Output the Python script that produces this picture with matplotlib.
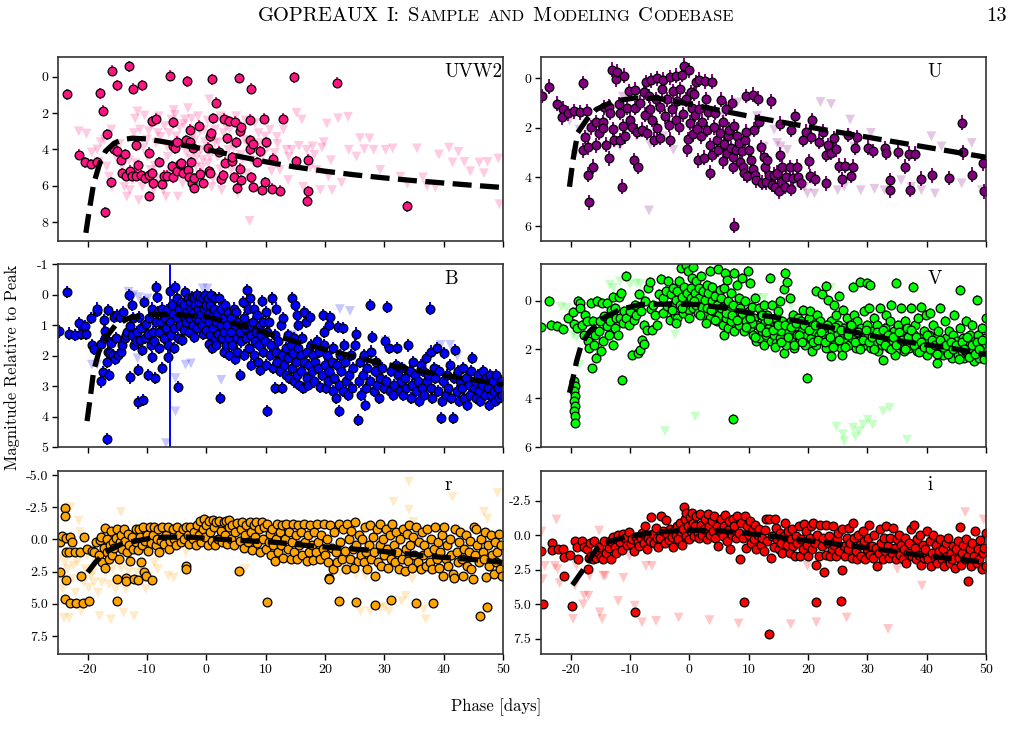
import numpy as np
import matplotlib
matplotlib.use("Agg")
import matplotlib.pyplot as plt

# ---------------- DATA (phase [days], magnitude relative to peak) ----------------
UVW2_det = [(-23.5,0.96),(-21.4,4.3),(-20.4,4.7),(-19.4,4.8),(-18.4,4.7),(-17.9,0.9),(-17.5,1.87),(-16.8,3.17),(-17.0,7.46),(-16.1,5.8),(-15.9,-0.35),(-15.5,4.0),(-15.0,0.46),(-15.0,4.1),(-14.4,4.57),(-14.2,5.3),(-13.7,4.27),(-13.5,5.46),(-13.1,-0.6),(-12.8,5.17),(-12.6,5.46),(-12.4,0.65),(-11.8,3.76),(-11.8,5.46),(-11.6,4.87),(-11.0,5.43),(-10.8,0.46),(-10.4,5.6),(-9.7,5.43),(-9.6,4.17),(-9.6,6.57),(-9.2,2.43),(-9.1,5.3),(-9.0,5.87),(-8.5,2.3),(-7.9,4.69),(-7.4,5.9),(-7.2,5.46),(-6.7,5.46),(-6.2,-0.06),(-5.8,4.94),(-5.7,5.54),(-5.6,2.5),(-5.7,3.8),(-5.2,3.94),(-5.0,3.57),(-4.9,5.17),(-4.5,4.83),(-4.2,4.76),(-3.9,5.3),(-3.4,3.5),(-3.2,0.24),(-3.1,5.13),(-3.0,5.5),(-2.8,3.6),(-2.7,2.9),(-2.6,4.69),(-2.4,5.87),(-2.3,3.9),(-2.1,6.1),(-2.0,5.6),(-1.3,2.69),(-1.0,5.35),(-0.5,5.83),(0.3,3.9),(0.4,5.2),(0.6,3.28),(0.7,5.3),(0.8,3.1),(1.0,0.13),(1.2,2.28),(1.6,1.43),(2.2,4.13),(2.5,5.65),(2.8,5.43),(2.9,2.3),(3.2,4.72),(3.4,3.39),(3.9,2.43),(4.3,4.65),(4.4,4.43),(4.7,5.54),(4.8,2.46),(5.0,3.6),(5.2,6.13),(5.5,0.06),(5.6,3.0),(5.7,5.06),(5.8,2.76),(5.9,5.69),(7.3,2.35),(7.3,3.98),(7.4,3.5),(7.5,5.54),(7.5,0.65),(7.8,6.06),(7.8,3.69),(8.5,4.69),(9.0,4.1),(9.3,6.24),(9.8,2.3),(10.0,3.6),(9.9,5.8),(11.0,6.17),(11.2,4.5),(12.4,6.28),(12.9,2.3),(14.8,0.02),(15.1,4.65),(16.9,6.83),(17.1,4.57),(17.2,6.31),(22.0,0.31),(33.9,7.13)]
UVW2_lim = [(-21.5,3.0),(-20.2,3.13),(-19.3,4.17),(-18.4,4.0),(-18.1,4.67),(-17.2,3.46),(-16.8,4.94),(-16.4,5.5),(-15.9,6.06),(-15.0,4.57),(-14.2,4.94),(-13.8,6.06),(-13.4,6.6),(-12.9,6.24),(-12.5,5.69),(-11.9,4.76),(-11.6,1.9),(-11.4,6.8),(-10.8,6.06),(-10.4,2.13),(-10.0,3.46),(-9.7,2.98),(-9.4,5.13),(-8.9,6.24),(-8.5,3.65),(-8.2,3.09),(-8.0,2.17),(-7.6,4.76),(-7.2,6.24),(-6.8,6.6),(-6.6,3.83),(-6.3,3.09),(-5.9,2.35),(-5.5,1.83),(-5.1,3.28),(-4.8,6.6),(-4.5,2.8),(-4.0,5.87),(-3.6,2.35),(-3.1,1.72),(-2.6,4.5),(-2.3,3.28),(-1.7,4.94),(-1.4,2.17),(-0.9,4.02),(-0.6,4.57),(-0.3,2.9),(0.3,4.76),(0.5,1.24),(0.9,6.06),(1.4,3.65),(1.9,4.39),(2.4,2.17),(2.6,6.24),(3.3,2.72),(3.7,4.02),(4.2,5.13),(5.0,2.17),(5.3,6.43),(6.1,4.57),(6.4,3.46),(6.8,5.32),(7.3,7.94),(8.2,2.54),(8.4,4.76),(9.0,3.65),(9.9,3.28),(10.7,2.9),(11.5,4.2),(11.9,3.31),(12.4,5.13),(13.5,4.02),(13.8,5.69),(14.4,4.02),(15.2,1.98),(16.1,2.35),(16.3,6.06),(16.9,4.02),(17.9,3.83),(18.6,5.13),(19.2,6.24),(19.8,3.6),(20.3,2.57),(20.6,5.5),(21.2,6.24),(22.2,2.28),(22.8,5.83),(23.9,2.2),(24.0,4.02),(25.3,4.39),(25.9,3.37),(26.6,3.98),(27.5,3.39),(28.2,4.02),(29.3,5.13),(30.2,4.02),(31.4,3.94),(32.7,5.5),(33.9,5.9),(35.5,3.94),(36.5,5.54),(37.2,6.02),(38.6,6.09),(39.2,4.28),(40.9,3.9),(41.5,4.72),(42.5,4.13),(43.5,4.69),(44.5,5.2),(46.0,4.72),(46.8,5.31),(47.4,4.69),(49.2,4.5),(49.4,7.02),
            (-12.0,2.3),(-11.2,2.9),(-10.6,3.9),(-9.9,4.4),(-9.3,2.6),(-8.7,4.9),(-8.1,5.6),(-7.7,3.3),(-7.0,2.7),(-6.5,4.4),(-6.0,5.2),(-5.3,2.1),(-4.7,3.7),(-4.3,4.9),(-3.8,2.6),(-3.3,4.2),(-2.9,5.2),(-2.5,2.3),(-2.0,3.5),(-1.6,4.4),(-1.1,3.0),(-0.8,5.0),(-0.2,3.6),(0.2,2.4),(0.6,4.4),(1.1,5.6),(1.5,2.9),(2.0,3.6),(2.3,5.1),(2.9,3.1),(3.5,4.8),(4.0,2.9),(4.6,3.9),(5.2,2.7),(5.8,4.3),(6.6,2.4),(7.0,3.7),(7.6,4.6),(8.8,3.1),(9.5,4.3),(10.3,3.9),(11.0,5.2),(12.0,3.7),(13.0,2.9),(13.9,4.4),(15.6,3.8),(17.5,5.0),(18.2,4.3),(19.5,3.9),(21.0,4.6),(-14.6,3.7),(-13.0,4.6),(-12.2,3.1),(-16.0,2.9),(-17.8,3.6)]
UVW2_model_phase = [-20.3,-19.8,-19.0,-18.0,-17.0,-15.5,-14.0,-12.5,-10.0,-5.0,0.0,5.0,10.0,15.0,20.0,25.0,30.0,35.0,40.0,45.0,50.0]
UVW2_model_mag = [8.6,7.5,5.9,4.8,4.1,3.65,3.45,3.38,3.42,3.7,4.0,4.35,4.68,4.97,5.2,5.4,5.57,5.72,5.85,5.98,6.1]

U_det = [(-24.9,0.71),(-23.6,0.33),(-22.3,1.02),(-21.3,1.23),(-21.4,1.58),(-20.4,1.42),(-19.5,1.34),(-18.4,1.37),(-17.9,0.19),(-17.3,1.34),(-17.6,2.38),(-17.9,2.92),(-17.0,2.79),(-17.0,3.91),(-16.9,5.03),(-16.6,1.99),(-16.2,3.58),(-15.8,1.78),(-15.7,2.71),(-15.3,2.21),(-14.6,1.78),(-14.5,2.02),(-14.3,1.17),(-14.0,2.69),(-13.6,3.25),(-13.5,1.15),(-13.4,1.39),(-13.1,-0.36),(-12.8,2.05),(-12.7,2.49),(-12.4,0.03),(-12.2,-0.28),(-11.9,1.04),(-11.7,1.39),(-11.7,2.51),(-11.4,4.4),(-11.2,1.94),(-11.0,-0.11),(-10.8,2.35),(-10.5,1.2),(-10.2,0.52),(-10.0,1.67),(-9.7,1.97),(-9.4,3.33),(-9.2,0.46),(-9.1,1.2),(-8.9,2.16),(-8.7,3.58),(-8.3,0.98),(-7.97,2.08),(-7.7,0.57),(-7.5,1.48),(-7.3,0.16),(-7.2,2.21),(-6.8,0.71),(-6.6,1.26),(-6.4,0.08),(-6.3,1.67),(-5.9,2.49),(-5.7,0.85),(-5.5,0.0),(-5.4,2.02),(-5.0,1.15),(-4.9,2.4),(-4.6,0.44),(-4.4,0.05),(-4.1,1.53),(-3.8,0.85),(-3.5,1.89),(-3.3,2.49),(-3.2,-0.05),(-2.9,1.26),(-2.7,0.52),(-2.3,-0.11),(-2.2,1.67),(-2.0,0.93),(-1.8,1.99),(-1.5,0.44),(-1.3,-0.14),(-1.1,1.45),(-0.9,-0.52),(-0.6,0.85),(-0.4,2.87),(-0.3,2.46),(-0.1,-0.33),(0.05,1.8),(0.3,0.57),(0.5,1.2),(0.6,2.27),(0.8,0.63),(0.9,1.48),(1.1,0.16),(1.3,2.05),(1.5,3.33),(1.6,0.05),(1.7,1.23),(2.0,2.35),(2.2,1.75),(2.4,3.22),(2.6,0.11),(2.8,0.85),(3.0,2.08),(3.2,1.37),(3.4,2.71),(3.5,3.83),(3.8,0.14),(3.9,3.09),(4.2,1.99),(4.4,1.39),(4.7,2.51),(4.9,2.9),(5.1,2.21),(5.4,0.87),(5.6,3.36),(5.7,1.78),(5.9,2.65),(6.1,1.23),(6.4,3.03),(6.5,2.35),(6.7,2.08),(7.0,2.84),(7.2,0.98),(7.3,3.2),(7.4,3.58),(7.5,5.98),(7.6,1.94),(7.8,2.9),(8.1,2.35),(8.3,2.62),(8.6,3.39),(8.9,2.95),(9.0,3.58),(9.2,3.85),(9.4,2.49),(9.5,0.71),(9.6,2.16),(9.8,3.96),(10.1,2.9),(10.4,3.31),(10.7,0.66),(10.8,3.66),(10.9,2.08),(11.0,3.93),(11.2,4.13),(11.6,0.82),(11.8,1.75),(12.0,2.79),(12.2,4.24),(12.5,3.17),(12.7,3.58),(12.9,4.21),(13.1,3.31),(13.4,3.91),(13.7,0.93),(13.9,4.32),(14.3,3.91),(14.4,4.4),(14.7,3.83),(15.1,4.59),(15.2,3.09),(15.3,1.83),(15.4,4.21),(15.7,3.61),(16.1,4.4),(16.3,3.99),(16.9,3.61),(17.1,2.08),(17.2,4.48),(17.4,4.05),(17.8,1.53),(18.1,3.58),(18.3,3.99),(18.8,4.24),(19.1,2.49),(19.7,2.16),(20.1,3.36),(20.3,3.96),(20.5,2.38),(20.7,1.69),(21.1,4.07),(21.8,2.57),(22.5,2.16),(23.0,4.26),(23.1,3.11),(23.4,2.71),(23.9,3.03),(24.4,2.43),(24.8,2.87),(25.3,3.55),(25.8,4.1),(26.2,3.55),(26.8,2.3),(27.3,3.96),(27.6,3.58),(28.0,2.81),(28.2,2.38),(30.1,2.81),(30.9,2.95),(33.0,2.84),(33.2,3.03),(33.8,4.13),(33.8,4.54),(35.1,2.98),(36.4,3.58),(37.0,3.06),(37.2,4.51),(38.1,3.06),(39.1,4.07),(40.9,3.93),(43.7,4.04),(45.9,1.8),(46.2,3.0),(47.6,3.91),(49.5,3.44),(49.7,4.59)]
U_lim = [(-20.2,1.72),(-19.3,3.09),(-18.5,2.08),(-16.8,2.21),(-11.7,2.76),(-11.2,0.74),(-8.9,2.35),(-6.8,5.36),(-6.6,2.68),(-4.4,2.35),(-2.7,2.9),(0.2,2.08),(2.4,2.21),(5.8,1.53),(8.1,0.98),(10.3,2.21),(11.4,1.53),(12.6,2.76),(14.3,2.08),(14.8,2.62),(15.4,2.76),(16.5,2.9),(17.1,4.54),(18.2,4.26),(19.4,4.4),(19.9,4.67),(21.1,4.67),(22.1,0.96),(23.9,1.04),(25.0,4.54),(26.1,4.4),(27.1,1.67),(27.8,2.76),(28.9,4.54),(30.6,2.21),(31.2,4.48),(32.9,4.54),(35.7,4.13),(37.4,4.4),(39.1,4.54),(40.8,2.35),(41.4,4.67),(42.5,2.76),(45.9,4.26),(47.6,2.62),(49.3,4.54)]
U_model_phase = [-20.2,-19.6,-18.8,-17.3,-15.7,-12.8,-9.4,-5.5,0.2,5.8,11.5,22.7,34.0,50.0]
U_model_mag = [4.4,3.3,2.2,1.67,1.26,0.93,0.8,0.8,1.05,1.33,1.6,2.08,2.55,3.2]

B_det = [(-24.9,1.21),(-23.5,-0.09),(-23.2,1.28),(-22.2,1.33),(-21.5,0.95),(-21.2,1.28),(-20.4,1.02),(-20.2,1.28),(-19.5,0.76),(-19.2,1.67),(-19.0,1.78),(-18.5,0.54),(-18.4,0.46),(-17.8,1.63),(-17.7,2.85),(-17.5,2.54),(-17.3,0.85),(-17.1,1.2),(-17.0,1.41),(-16.8,4.73),(-16.7,2.22),(-16.6,1.87),(-16.4,2.63),(-16.6,0.5),(-16.2,1.93),(-16.0,1.59),(-15.8,1.98),(-15.6,0.74),(-15.4,2.11),(-15.2,1.43),(-15.0,0.67),(-14.9,1.98),(-14.5,0.74),(-14.4,1.87),(-14.2,1.65),(-14.0,0.57),(-13.7,1.43),(-13.5,1.33),(-13.3,1.22),(-13.1,0.02),(-12.9,1.02),(-12.8,2.72),(-12.6,0.35),(-12.5,1.33),(-12.3,0.78),(-12.2,1.65),(-11.9,1.54),(-11.7,1.22),(-11.6,2.47),(-11.5,3.54),(-11.4,0.74),(-11.1,1.48),(-11.0,1.11),(-10.8,1.83),(-10.6,3.46),(-10.5,0.24),(-10.3,1.43),(-10.1,0.96),(-9.9,1.28),(-9.8,2.65),(-9.6,0.78),(-9.4,1.65),(-9.2,2.04),(-9.1,0.46),(-9.0,1.24),(-8.8,1.54),(-8.6,2.74),(-8.5,0.89),(-8.4,-0.24),(-8.3,0.09),(-8.1,0.57),(-8.0,1.22),(-7.9,1.76),(-7.6,0.89),(-7.5,2.41),(-7.4,0.46),(-7.2,1.43),(-7.0,0.78),(-6.8,1.11),(-6.6,0.5),(-6.5,1.65),(-6.4,2.04),(-6.2,-0.13),(-6.1,0.89),(-5.9,1.33),(-5.8,0.35),(-5.6,0.63),(-5.5,1.11),(-5.4,1.76),(-5.2,-0.24),(-5.0,0.13),(-4.9,0.78),(-4.8,3.04),(-4.7,1.43),(-4.6,0.46),(-4.4,1.0),(-4.2,0.24),(-4.1,1.5),(-3.9,0.67),(-3.8,1.17),(-3.7,0.35),(-3.6,-0.07),(-3.5,0.89),(-3.2,0.57),(-3.1,0.13),(-2.9,1.22),(-2.8,0.78),(-2.7,0.24),(-2.6,0.46),(-2.4,0.07),(-2.3,1.0),(-2.2,0.57),(-2.1,0.13),(-2.0,1.39),(-1.9,0.35),(-1.8,0.78),(-1.6,0.02),(-1.5,1.11),(-1.4,0.46),(-1.3,0.24),(-1.2,0.85),(-1.0,0.07),(-0.9,0.63),(-0.7,1.0),(-0.6,0.13),(-0.5,1.28),(-0.4,0.46),(-0.3,0.02),(-0.2,0.78),(-0.1,0.35),(0.0,1.17),(0.2,0.63),(0.3,0.13),(0.4,1.61),(0.5,0.89),(0.6,0.35),(0.7,1.33),(0.8,0.02),(0.9,1.76),(1.1,0.67),(1.2,1.11),(1.3,0.46),(1.4,1.43),(1.5,0.13),(1.6,0.89),(1.7,1.65),(1.8,0.63),(1.9,1.28),(2.2,0.13),(2.3,3.39),(2.4,1.0),(2.5,0.46),(2.6,1.43),(2.8,0.78),(2.9,1.87),(3.0,1.22),(3.2,0.35),(3.3,1.65),(3.4,1.0),(3.7,0.57),(3.8,1.43),(3.9,1.98),(4.1,0.78),(4.2,1.22),(4.4,1.65),(4.6,0.46),(4.8,2.11),(4.9,1.0),(5.0,0.57),(5.1,1.43),(5.2,1.87),(5.4,0.89),(5.6,1.22),(5.7,2.63),(5.9,1.54),(6.1,0.24),(6.3,0.78),(6.4,1.98),(6.5,1.11),(6.7,1.43),(6.9,-0.15),(7.0,0.46),(7.2,1.76),(7.3,1.0),(7.4,0.13),(7.5,1.33),(7.6,2.3),(7.8,0.89),(8.0,1.98),(8.1,0.46),(8.2,1.54),(8.4,1.22),(8.5,0.67),(8.7,2.2),(8.9,1.65),(9.0,1.0),(9.1,2.48),(9.2,1.33),(9.4,0.2),(9.5,1.87),(9.6,0.89),(9.9,1.54),(10.0,0.57),(10.1,2.3),(10.2,3.83),(10.3,1.22),(10.5,0.89),(10.7,1.98),(10.9,1.65),(11.1,0.13),(11.2,2.41),(11.5,1.33),(11.6,3.07),(11.7,1.87),(11.8,0.46),(11.9,2.2),(12.1,1.54),(12.4,2.52),(12.6,1.0),(12.7,3.07),(12.8,1.98),(12.9,0.78),(13.1,2.3),(13.4,1.76),(13.5,2.63),(13.7,1.33),(13.8,2.09),(14.0,2.74),(14.2,1.65),(14.4,2.41),(14.5,0.13),(14.6,1.93),(14.7,2.85),(14.8,1.43),(15.0,0.35),(15.1,2.2),(15.2,0.67),(15.3,2.63),(15.4,1.0),(15.5,1.76),(15.6,2.96),(15.9,1.98),(16.0,2.52),(16.2,1.43),(16.3,3.07),(16.4,0.57),(16.5,2.2),(16.8,0.89),(16.9,1.87),(17.0,2.74),(17.1,2.96),(17.3,2.3),(17.4,0.74),(17.7,1.65),(17.8,2.52),(17.9,1.98),(18.1,2.85),(18.3,2.2),(18.6,1.54),(18.8,2.41),(19.0,1.87),(19.2,3.02),(19.5,2.63),(19.7,0.67),(19.8,1.22),(19.9,1.65),(20.0,2.3),(20.1,3.07),(20.4,1.98),(20.5,2.85),(20.6,1.0),(20.7,2.52),(20.9,0.74),(21.1,2.2),(21.3,3.17),(21.4,1.76),(21.6,2.74),(21.8,3.39),(22.0,2.3),(22.2,1.07),(22.3,3.83),(22.4,2.96),(22.5,1.98),(22.7,2.52),(23.0,3.17),(23.1,1.11),(23.2,1.65),(23.4,2.2),(23.6,2.85),(23.9,3.28),(24.1,2.63),(24.3,1.98),(24.6,3.07),(24.8,2.41),(25.1,1.65),(25.3,1.28),(25.5,4.11),(25.7,2.85),(25.9,2.2),(26.1,3.28),(26.4,2.63),(26.6,1.98),(26.8,3.61),(26.9,3.07),(27.1,2.41),(27.5,0.35),(27.6,2.85),(27.8,1.87),(27.9,1.39),(28.2,3.17),(28.4,2.52),(28.6,2.2),(28.8,2.96),(29.1,3.39),(29.3,2.74),(29.6,2.41),(29.9,3.07),(30.1,1.54),(30.3,2.85),(30.5,0.41),(30.8,1.76),(31.0,3.17),(31.2,2.52),(31.4,3.28),(31.7,2.96),(31.9,2.3),(32.1,1.76),(32.3,2.63),(32.6,3.17),(32.8,2.85),(33.0,2.41),(33.2,3.28),(33.5,2.74),(33.7,3.07),(34.0,1.67),(34.3,2.52),(34.5,3.39),(34.7,2.96),(34.9,2.2),(35.2,2.63),(35.4,3.17),(35.6,2.85),(35.8,3.5),(36.1,2.3),(36.3,3.07),(36.5,2.52),(36.7,3.28),(37.0,2.09),(37.2,2.85),(37.4,2.63),(37.7,0.46),(37.8,1.87),(37.9,3.07),(38.1,3.39),(38.3,2.41),(38.6,2.74),(38.8,1.76),(39.0,3.17),(39.2,2.52),(39.5,4.04),(39.7,3.5),(39.9,2.85),(40.1,1.93),(40.4,3.28),(40.6,2.63),(40.8,3.07),(41.0,2.3),(41.3,3.39),(41.5,4.04),(41.7,2.74),(41.9,1.83),(42.2,3.17),(42.4,2.52),(42.6,3.5),(42.8,2.85),(43.1,3.07),(43.3,2.41),(43.5,3.39),(43.7,2.74),(43.9,3.61),(44.2,2.96),(44.4,3.28),(44.6,2.52),(44.8,2.09),(45.1,3.07),(45.3,2.85),(45.5,3.39),(45.8,2.63),(46.0,3.17),(46.2,3.5),(46.5,2.96),(46.7,2.52),(46.9,3.28),(47.1,2.74),(47.4,3.07),(47.6,3.61),(47.8,2.63),(48.0,3.28),(48.3,2.85),(48.5,3.17),(48.7,3.5),(48.9,2.63),(49.2,3.07),(49.4,3.39),(49.6,2.85),(49.8,3.28)]
B_outlier = [(-6.1,5.6),(7.5,5.25)]
B_outlier_err = [6.8,0.2]
B_lim = [(-19.3,2.3),(-18.4,2.3),(-13.1,-0.09),(-12.3,0.02),(-11.6,2.09),(-11.4,0.09),(-10.5,0.24),(-9.9,0.13),(-6.8,4.87),(-5.2,2.74),(-5.2,3.83),(-3.5,2.3),(-2.6,2.26),(-0.6,-0.2),(0.2,-0.2),(2.5,2.8),(11.2,0.24),(14.5,1.33),(14.6,1.43),(22.5,0.48),(24.2,0.54),(24.8,1.87),(30.2,1.52),(39.5,1.65),(41.1,1.65),(42.3,2.02)]
B_model_phase = [-20.1,-19.5,-19.0,-18.1,-17.0,-15.3,-13.1,-10.2,-5.7,0.0,5.6,11.2,16.9,22.5,28.2,33.8,39.5,50.0]
B_model_mag = [4.15,3.28,2.52,1.87,1.43,1.0,0.78,0.67,0.65,0.73,1.0,1.33,1.65,1.92,2.2,2.43,2.63,2.95]

V_det = [(-24.95,1.09),(-23.6,0.0),(-23.3,0.98),(-22.3,1.04),(-21.3,1.17),(-20.4,0.71),(-19.6,0.46),(-19.5,0.95),(-19.0,1.12),(-19.4,3.3),(-19.3,3.5),(-19.4,3.71),(-19.3,3.92),(-19.4,4.12),(-19.3,4.33),(-19.4,4.53),(-19.3,4.73),(-19.35,5.01),(-18.7,0.03),(-18.5,0.11),(-18.4,0.3),(-18.1,1.01),(-17.7,1.39),(-17.6,0.57),(-17.3,0.85),(-17.1,1.66),(-16.9,1.94),(-16.6,0.08),(-16.4,2.78),(-16.3,0.85),(-16.1,1.8),(-15.9,1.39),(-15.7,2.35),(-15.5,0.03),(-15.3,1.26),(-15.1,0.85),(-14.9,2.07),(-14.7,0.08),(-14.5,1.66),(-14.3,0.65),(-13.96,0.08),(-13.8,1.06),(-13.6,1.39),(-13.4,0.85),(-13.2,0.38),(-12.9,-0.16),(-12.8,1.8),(-12.6,1.12),(-12.5,0.3),(-12.3,0.71),(-12.0,1.42),(-11.9,-0.16),(-11.7,0.71),(-11.6,-0.3),(-11.4,3.25),(-11.2,0.93),(-11.0,0.44),(-10.7,-1.01),(-10.6,0.71),(-10.2,0.98),(-10.0,0.44),(-9.7,2.24),(-9.4,0.79),(-9.2,0.16),(-9.0,0.57),(-8.65,2.16),(-8.5,-0.27),(-8.3,2.02),(-8.2,0.44),(-7.97,1.61),(-7.7,0.98),(-7.6,1.77),(-7.4,0.03),(-7.2,1.2),(-6.96,-0.52),(-6.6,-0.76),(-6.4,0.35),(-6.3,1.2),(-6.05,0.16),(-5.8,0.57),(-5.5,0.98),(-5.15,-0.27),(-4.7,-0.87),(-4.5,0.52),(-4.4,-0.11),(-4.0,-0.38),(-3.8,0.22),(-3.6,-0.79),(-3.3,0.79),(-3.1,-0.25),(-2.9,0.16),(-2.7,-0.52),(-2.4,0.57),(-2.3,-0.03),(-2.1,-0.38),(-2.0,0.71),(-1.8,-0.79),(-1.6,0.16),(-1.4,-1.34),(-1.3,-0.16),(-1.1,0.52),(-0.9,-0.57),(-0.6,0.16),(-0.5,-1.47),(-0.4,-0.3),(-0.3,-1.23),(-0.1,0.38),(0.2,-0.52),(0.3,-0.11),(0.4,-0.93),(0.6,0.3),(0.7,-1.39),(1.0,-0.3),(1.1,-0.79),(1.2,0.16),(1.4,0.52),(1.6,-0.52),(1.7,-0.11),(2.0,-1.01),(2.2,0.25),(2.3,-0.38),(2.4,0.57),(2.6,-0.03),(2.9,-0.65),(3.0,0.3),(3.2,-0.3),(3.4,0.71),(3.5,-1.2),(3.8,0.03),(3.9,-0.55),(4.1,0.44),(4.3,-0.19),(4.6,0.85),(4.7,0.16),(4.9,-1.28),(5.0,0.57),(5.1,-0.44),(5.4,-0.11),(5.6,0.98),(5.7,0.3),(5.8,1.39),(5.9,-0.52),(6.0,-1.12),(6.1,0.71),(6.4,-0.85),(6.5,0.03),(6.6,1.12),(6.8,0.44),(7.0,-0.3),(7.05,0.85),(7.3,0.19),(7.4,4.86),(7.5,-1.12),(7.6,1.26),(7.8,0.57),(8.1,-0.65),(8.3,-0.11),(8.4,0.98),(8.6,0.3),(8.9,-0.93),(9.0,0.71),(9.2,1.26),(9.4,0.03),(9.6,0.85),(9.9,-1.2),(10.0,0.44),(10.2,-0.71),(10.3,1.12),(10.5,0.25),(10.8,1.39),(10.9,0.71),(11.1,-0.11),(11.3,1.66),(11.45,0.98),(11.7,0.3),(11.8,1.53),(12.0,0.57),(12.2,1.26),(12.5,1.8),(12.6,0.16),(12.7,0.85),(12.9,1.39),(13.1,0.57),(13.4,1.12),(13.6,-0.93),(13.7,1.66),(13.9,0.16),(14.0,0.85),(14.3,1.39),(14.4,0.71),(14.6,1.72),(14.8,0.98),(15.0,0.44),(15.2,1.53),(15.3,0.03),(15.4,1.26),(15.6,0.85),(15.9,-0.46),(16.0,2.13),(16.1,-1.12),(16.3,1.8),(16.5,-0.76),(16.8,1.26),(16.9,-0.11),(17.1,0.85),(17.3,1.53),(17.5,0.57),(17.7,1.94),(17.9,1.06),(18.1,1.39),(18.3,0.71),(18.6,1.66),(18.8,0.85),(19.0,1.26),(19.2,0.38),(19.5,1.8),(19.7,0.98),(19.8,3.17),(19.9,1.39),(20.1,0.71),(20.3,0.44),(20.5,1.53),(20.6,2.07),(20.8,0.98),(21.05,1.26),(21.3,-0.38),(21.4,1.8),(21.6,0.57),(21.8,1.39),(22.1,0.85),(22.3,-0.25),(22.5,1.53),(22.7,1.12),(22.97,-0.6),(23.1,1.94),(23.3,-0.03),(23.5,1.53),(23.8,2.29),(23.9,0.85),(24.1,1.26),(24.3,0.16),(24.4,1.8),(24.7,0.57),(24.9,1.39),(25.1,0.98),(25.3,-0.19),(25.5,1.94),(25.7,1.53),(25.8,2.21),(25.9,0.38),(26.1,1.12),(26.4,1.66),(26.6,0.71),(26.7,1.39),(26.9,1.8),(27.1,0.98),(27.4,1.53),(27.6,-0.57),(27.7,0.57),(27.8,1.26),(28.05,1.94),(28.3,0.85),(28.5,1.66),(28.8,-0.76),(28.96,1.12),(29.2,1.47),(29.4,0.44),(29.6,1.8),(29.9,-0.71),(30.0,0.98),(30.1,1.39),(30.3,0.3),(30.5,-0.65),(30.6,1.94),(30.9,1.26),(31.1,0.71),(31.3,1.66),(31.6,0.98),(31.8,2.07),(32.0,1.39),(32.2,0.3),(32.5,1.8),(32.7,2.43),(32.9,1.12),(33.1,0.57),(33.4,1.53),(33.6,1.94),(33.8,0.85),(34.0,0.16),(34.3,1.66),(34.5,1.26),(34.7,2.21),(34.9,-0.74),(35.2,0.98),(35.4,1.8),(35.6,0.3),(35.8,1.39),(36.1,2.07),(36.3,0.85),(36.5,1.53),(36.7,1.12),(37.0,1.94),(37.2,1.8),(37.4,0.3),(37.65,-0.57),(37.9,1.39),(38.1,0.98),(38.3,2.07),(38.55,0.71),(38.8,1.53),(39.0,0.25),(39.2,1.94),(39.5,1.26),(39.7,1.66),(39.9,0.57),(40.1,2.21),(40.4,1.39),(40.6,0.52),(40.8,1.8),(41.0,0.98),(41.3,2.07),(41.5,1.53),(41.7,2.56),(41.9,1.26),(42.2,0.3),(42.4,1.94),(42.6,1.66),(42.8,2.21),(43.1,0.85),(43.3,1.53),(43.5,2.07),(43.75,1.26),(43.97,1.8),(44.2,2.35),(44.4,1.39),(44.65,0.57),(44.9,1.94),(45.1,1.66),(45.3,2.21),(45.55,-0.44),(45.7,1.12),(45.9,2.07),(46.1,1.53),(46.35,2.35),(46.6,0.85),(46.8,1.8),(47.0,2.21),(47.3,1.39),(47.5,1.94),(47.7,0.98),(47.9,2.48),(48.2,1.66),(48.4,-0.03),(48.5,2.07),(48.7,1.39),(48.9,2.35),(49.2,1.8),(49.4,1.12),(49.6,2.21),(49.8,1.53),(49.95,0.71),
         (10.6,0.9),(11.0,1.5),(11.9,1.1),(12.3,0.6),(13.0,1.3),(13.3,0.8),(14.1,1.2),(14.5,1.9),(15.0,1.0),(15.5,1.7),(16.2,1.0),(16.7,1.5),(17.2,1.1),(17.6,1.8),(18.0,0.9),(18.4,1.4),(19.0,1.7),(19.3,1.0),(20.2,1.2),(20.8,1.7),(21.2,1.0),(21.7,1.6),(22.2,1.3),(22.8,1.7),(23.2,1.0),(23.7,1.5),(24.2,1.9),(24.6,1.1),(25.2,1.6),(25.6,1.2),(26.3,1.9),(26.8,1.4),(27.3,1.0),(27.9,1.7),(28.4,1.3),(28.8,2.0),(29.3,1.6),(29.7,1.2),(30.2,1.7),(30.8,1.5),(31.2,2.0),(31.7,1.3),(32.1,1.6),(32.6,1.2),(33.0,1.8),(33.5,1.4),(34.0,2.0),(34.4,1.5),(34.9,1.8),(35.3,1.3),(35.9,1.6),(36.4,2.0),(36.8,1.5),(37.3,1.2),(37.8,1.8),(38.2,1.5),(38.7,2.1),(39.1,1.7),(39.6,1.9),(40.0,1.4),(40.5,2.0),(40.9,1.6),(41.4,1.8),(41.8,2.2),(42.3,1.6),(42.7,1.9),(43.2,1.8),(43.6,2.2),(44.1,1.7),(44.5,2.0),(45.0,1.8),(45.4,2.4),(45.9,1.7),(46.3,2.0),(46.8,1.5),(47.2,2.3),(47.6,1.8),(48.1,2.2),(48.5,1.7),(48.9,2.0),(49.3,1.6),(49.7,2.4),(-3.0,0.4),(-2.2,0.9),(-1.2,0.3),(0.0,0.7),(0.8,0.0),(1.8,0.6),(2.8,0.9),(3.6,0.4),(4.4,0.8),(5.3,0.3),(6.2,0.5),(7.2,0.6),(8.0,0.8),(8.8,0.5),(9.6,1.1),(10.2,0.7)]
V_lim = [(-21.6,0.25),(-20.7,0.3),(-19.6,1.39),(-19.0,1.53),(-18.5,2.62),(-13.4,-0.65),(-12.8,-0.52),(-11.7,-0.79),(-10.0,-0.65),(-8.9,-0.71),(-8.3,-0.68),(-6.8,-0.52),(-4.1,5.35),(-2.4,1.39),(1.0,4.75),(2.9,0.85),(8.1,-0.38),(11.45,-0.11),(12.6,-0.11),(14.8,1.26),(17.1,0.16),(23.9,-0.52),(24.8,5.16),(25.9,5.48),(26.1,5.76),(27.6,5.21),(28.0,5.57),(28.6,5.35),(29.3,5.08),(30.1,4.88),(30.9,5.08),(32.7,4.53),(33.8,4.39),(36.7,5.7)]
V_model_phase = [-20.2,-19.6,-19.0,-18.2,-16.8,-14.5,-11.7,-8.3,-2.7,1.3,5.8,11.45,17.1,22.7,28.4,34.0,39.7,45.3,50.0]
V_model_mag = [3.78,3.17,2.48,1.8,1.26,0.71,0.37,0.16,0.14,0.16,0.3,0.57,0.78,1.05,1.32,1.6,1.8,2.0,2.21]

r_det = [(-24.9,0.1),(-24.7,2.56),(-24.6,0.21),(-24.35,-0.26),(-23.8,-2.45),(-23.8,-1.83),(-23.8,4.65),(-23.7,3.19),(-23.6,-0.1),(-23.6,0.99),(-23.1,0.99),(-22.9,-0.16),(-22.9,4.91),(-22.65,0.21),(-22.2,0.99),(-21.9,4.91),(-21.3,0.99),(-21.1,2.87),(-20.85,4.91),(-20.6,-0.21),(-20.1,0.78),(-19.7,4.8),(-19.3,0.89),(-19.0,0.99),(-18.6,0.21),(-18.1,1.25),(-17.9,0.05),(-17.7,-0.21),(-17.6,1.78),(-17.2,0.63),(-17.0,-0.89),(-17.0,2.25),(-16.8,0.99),(-16.7,-0.05),(-16.4,1.51),(-16.2,0.47),(-16.0,-0.68),(-15.9,1.25),(-15.8,0.21),(-15.5,0.63),(-15.3,-0.1),(-15.1,-0.84),(-15.0,3.08),(-15.0,4.8),(-14.75,1.51),(-14.6,0.21),(-14.4,-0.31),(-14.2,0.73),(-13.96,-0.84),(-13.7,0.1),(-13.5,3.03),(-13.5,3.24),(-13.4,0.99),(-13.2,-0.42),(-13.05,0.47),(-12.8,1.67),(-12.6,-0.16),(-12.4,0.73),(-12.2,3.08),(-11.9,-0.84),(-11.8,0.21),(-11.6,0.84),(-11.5,3.13),(-11.4,-0.84),(-11.1,-0.16),(-11.0,1.78),(-10.8,0.47),(-10.6,-0.94),(-10.5,2.56),(-10.3,0.1),(-10.2,2.82),(-10.0,-0.31),(-9.8,0.89),(-9.55,-0.94),(-9.3,0.31),(-9.2,3.19),(-8.99,-0.31),(-8.76,-0.94),(-8.5,0.47),(-8.3,-0.05),(-8.1,-0.84),(-7.9,0.99),(-7.6,0.1),(-7.4,-0.94),(-7.2,0.37),(-6.8,-0.31),(-6.5,-0.94),(-6.3,0.73),(-6.05,0.1),(-5.7,-0.84),(-5.5,-0.05),(-5.15,0.47),(-4.9,-0.94),(-4.6,-0.31),(-4.35,0.21),(-4.0,-0.84),(-3.7,0.0),(-3.45,-0.94),(-3.45,2.09),(-3.45,2.3),(-3.1,-0.31),(-2.9,0.37),(-2.7,-0.94),(-2.3,-0.05),(-2.0,-0.57),(-1.8,0.47),(-1.5,-1.1),(-1.3,-0.31),(-1.1,-1.46),(-0.85,0.21),(-0.6,-0.84),(-0.4,-1.57),(-0.2,-0.16),(0.0,-1.1),(0.3,0.47),(0.5,-1.46),(0.7,-0.57),(0.95,0.1),(1.06,-1.51),(1.3,-0.94),(1.5,0.47),(1.7,-1.36),(1.96,-0.05),(2.2,-1.46),(2.4,-0.68),(2.6,0.21),(2.9,-1.36),(3.1,-0.31),(3.3,-1.46),(3.55,0.37),(3.8,-0.94),(3.9,-1.51),(4.1,-0.05),(4.3,-1.1),(4.6,0.47),(4.8,-0.57),(5.1,-1.25),(5.5,2.45),(5.6,0.1),(5.8,-0.84),(6.0,-1.36),(6.3,0.63),(6.5,-0.31),(6.7,-1.1),(7.05,0.21),(7.3,-1.36),(7.5,-0.57),(7.7,0.84),(7.95,-1.1),(8.2,-0.16),(8.4,-1.36),(8.6,0.31),(8.85,-0.84),(9.1,0.99),(9.3,-1.36),(9.5,-0.05),(9.76,-0.94),(9.98,0.73),(10.2,4.86),(10.3,-1.2),(10.5,0.21),(10.66,-0.42),(10.9,1.25),(11.1,-0.84),(11.3,0.47),(11.6,1.67),(11.7,-0.05),(11.9,-1.2),(12.1,0.99),(12.35,-0.57),(12.6,0.47),(12.8,-1.1),(13.0,1.41),(13.3,-0.05),(13.5,-1.2),(13.7,0.73),(13.9,-0.57),(14.2,1.51),(14.4,0.21),(14.6,-1.2),(14.8,0.99),(15.1,-0.31),(15.3,1.51),(15.5,-1.1),(15.7,0.47),(16.0,-0.57),(16.2,1.25),(16.4,-1.2),(16.6,0.21),(16.9,1.67),(17.1,-0.31),(17.3,0.99),(17.55,-1.1),(17.8,0.47),(18.0,1.62),(18.2,-0.57),(18.45,0.99),(18.7,-1.2),(18.9,0.21),(19.1,1.51),(19.4,-0.31),(19.6,0.73),(19.8,-1.2),(20.0,1.25),(20.3,-0.05),(20.5,1.78),(20.6,2.98),(20.7,3.08),(20.9,-1.1),(21.2,0.63),(21.4,2.3),(21.6,-0.57),(21.8,0.99),(22.1,1.78),(22.3,4.8),(22.4,-1.2),(22.6,0.21),(22.9,1.51),(23.1,-0.84),(23.3,0.89),(23.5,2.3),(23.76,-1.2),(23.99,-0.05),(24.2,1.51),(24.4,-0.68),(24.66,0.73),(24.9,2.19),(25.1,-1.36),(25.3,0.47),(25.3,4.86),(25.6,1.67),(25.8,-0.31),(26.0,1.25),(26.2,-0.05),(26.5,1.78),(26.7,-0.94),(26.9,0.99),(27.15,2.3),(27.4,0.47),(27.6,-1.1),(27.8,1.51),(28.05,-0.16),(28.3,0.99),(28.4,5.12),(28.5,2.82),(28.7,-0.84),(28.96,1.78),(29.2,0.47),(29.3,-1.2),(29.5,2.04),(29.75,-0.05),(29.97,1.25),(30.2,-0.84),(30.4,0.73),(30.65,2.19),(30.9,-0.31),(31.1,1.51),(31.2,4.7),(31.3,-1.2),(31.55,0.47),(31.8,1.78),(32.0,-0.57),(32.2,0.99),(32.46,2.3),(32.7,-0.05),(32.9,1.51),(33.1,-0.84),(33.4,2.45),(33.6,0.73),(33.8,-0.42),(34.0,1.67),(34.15,-1.1),(34.4,0.47),(34.6,2.19),(34.8,-0.16),(35.05,1.25),(35.3,4.91),(35.4,-0.94),(35.6,1.78),(35.8,0.21),(36.1,2.3),(36.3,-0.57),(36.5,1.25),(36.7,0.47),(36.97,2.04),(37.2,-0.84),(37.4,0.99),(37.65,1.78),(37.9,-0.05),(38.1,2.3),(38.2,4.91),(38.3,0.73),(38.55,-0.94),(38.8,1.51),(39.0,0.21),(39.2,2.19),(39.46,0.99),(39.7,-0.31),(39.9,2.82),(40.1,-0.94),(40.4,1.51),(40.6,0.47),(40.8,2.04),(41.0,-0.05),(41.3,1.25),(41.5,2.72),(41.7,2.98),(41.9,-0.84),(42.2,0.99),(42.4,1.78),(42.6,0.21),(42.8,-0.57),(43.1,1.51),(43.3,2.82),(43.5,0.73),(43.75,-0.31),(43.97,2.04),(44.2,0.99),(44.4,0.1),(44.65,2.3),(44.9,3.08),(45.1,-0.94),(45.3,1.25),(45.4,-0.84),(45.7,0.47),(45.9,1.78),(46.1,5.95),(46.35,-0.05),(46.6,0.99),(46.8,1.51),(47.0,-0.57),(47.1,2.92),(47.25,5.22),(47.5,0.47),(47.7,2.04),(47.9,-0.31),(48.15,1.25),(48.4,2.72),(48.6,0.21),(48.8,1.78),(49.06,0.99),(49.3,-0.42),(49.5,2.3),(49.7,0.47),(49.85,2.82)]
r_lim = [(-24.9,1.51),(-24.6,2.82),(-24.2,3.86),(-24.0,6.1),(-23.8,1.78),(-23.4,2.3),(-23.1,6.1),(-22.9,-2.5),(-22.65,3.08),(-22.4,2.04),(-22.1,4.13),(-21.75,1.78),(-21.5,-1.46),(-21.3,-0.57),(-21.1,5.59),(-20.7,3.34),(-20.4,2.3),(-20.06,1.25),(-19.8,3.76),(-19.5,2.82),(-19.15,2.56),(-18.9,3.34),(-18.6,1.78),(-18.25,4.13),(-18.0,5.95),(-17.6,3.34),(-17.0,2.56),(-16.4,3.5),(-16.1,6.21),(-15.8,2.3),(-15.3,3.86),(-14.75,3.08),(-14.4,-2.14),(-14.3,2.3),(-13.96,5.69),(-13.6,3.86),(-13.05,2.56),(-12.2,5.95),(-11.6,2.56),(-11.0,2.3),(-10.2,3.86),(-9.7,2.82),(-8.76,1.78),(-8.2,2.3),(-6.4,2.82),(-5.5,2.98),(-3.45,0.99),(-1.8,0.47),(6.5,2.3),(14.6,1.78),(22.5,2.56),(25.3,2.72),(26.0,5.59),(26.8,2.82),(27.6,5.59),(28.2,0.73),(29.3,5.33),(30.1,5.27),(30.8,5.59),(31.55,-2.92),(32.1,2.04),(32.9,4.8),(33.6,4.39),(34.15,-4.49),(34.15,-2.3),(34.7,3.08),(34.9,-1.36),(36.6,5.43),(36.97,6.21),(41.5,-3.29),(46.8,-2.14),(47.4,-1.62),(49.06,-3.6),(49.6,1.51)]
r_model_phase = [-20.0,-18.7,-17.0,-14.2,-11.4,-8.5,-2.9,1.06,5.6,11.2,16.9,22.5,28.2,33.8,39.46,45.1,49.9]
r_model_mag = [2.56,1.78,0.99,0.34,0.08,-0.16,-0.18,-0.05,0.08,0.21,0.47,0.68,0.86,1.12,1.38,1.57,1.78]

i_det = [(-24.95,1.15),(-24.7,4.95),(-23.2,0.58),(-23.1,1.06),(-22.2,1.01),(-21.3,0.96),(-21.1,1.54),(-21.2,2.93),(-20.06,1.39),(-19.7,5.1),(-19.3,0.38),(-19.0,0.82),(-18.7,1.73),(-18.1,0.43),(-17.7,0.87),(-17.3,1.01),(-17.1,2.45),(-16.99,1.63),(-16.8,0.53),(-16.6,1.49),(-16.2,1.73),(-15.99,0.43),(-15.65,1.63),(-15.4,1.2),(-15.2,0.82),(-14.9,1.59),(-14.5,1.68),(-14.3,0.43),(-14.1,1.25),(-13.6,0.91),(-13.4,0.43),(-13.2,1.73),(-12.8,0.14),(-12.5,0.82),(-12.3,1.25),(-12.0,-0.05),(-11.7,0.48),(-11.4,1.06),(-11.1,-0.1),(-10.8,0.19),(-10.5,0.72),(-10.1,-0.24),(-9.9,0.63),(-9.7,0.29),(-9.4,1.15),(-9.2,5.58),(-9.0,0.1),(-8.65,0.48),(-8.4,0.77),(-8.2,0.19),(-7.9,-0.14),(-7.6,0.53),(-7.4,-0.67),(-7.2,1.01),(-6.96,0.19),(-6.7,0.38),(-6.4,-1.3),(-6.2,-0.1),(-5.9,0.53),(-5.7,-0.53),(-5.5,0.19),(-5.3,0.82),(-4.9,0.19),(-4.7,-1.39),(-4.5,-0.34),(-4.1,0.53),(-3.9,-1.11),(-3.7,-0.1),(-3.5,0.34),(-3.2,-0.43),(-2.9,0.14),(-2.7,0.82),(-2.4,-0.43),(-2.2,-0.05),(-2.1,-0.67),(-1.9,0.29),(-1.6,-0.91),(-1.5,-0.29),(-1.3,0.67),(-1.1,-0.43),(-0.9,-2.07),(-0.75,-1.15),(-0.6,0.05),(-0.5,-1.63),(-0.3,-0.67),(-0.1,0.29),(0.05,-1.3),(0.3,-0.29),(0.4,-1.63),(0.6,-0.91),(0.8,0.05),(0.9,-0.67),(1.2,-1.39),(1.4,-0.19),(1.6,0.19),(1.85,-1.54),(1.96,-0.77),(2.2,-0.05),(2.4,-0.43),(2.6,-1.15),(2.9,0.29),(3.1,-1.54),(3.3,-0.67),(3.5,-0.05),(3.8,-1.01),(4.0,-0.34),(4.2,-1.39),(4.4,0.19),(4.7,-0.67),(4.9,0.77),(5.1,-0.29),(5.35,-1.15),(5.6,0.05),(5.8,-0.67),(6.0,-1.44),(6.3,0.43),(6.5,-0.38),(6.7,-1.01),(6.9,1.01),(7.2,-0.05),(7.4,-1.15),(7.6,-0.67),(7.8,0.19),(8.1,-1.39),(8.3,-0.19),(8.5,1.73),(8.7,-0.91),(9.0,0.19),(9.2,4.86),(9.3,-1.39),(9.5,0.91),(9.8,-0.67),(10.0,-0.05),(10.2,-1.06),(10.4,0.53),(10.7,-0.43),(10.9,0.29),(11.1,-0.77),(11.3,1.01),(11.6,-0.05),(11.8,-0.43),(12.0,0.67),(12.2,0.19),(12.5,1.15),(12.7,-0.38),(12.9,-1.15),(13.1,0.43),(13.4,7.12),(13.5,-1.15),(13.7,1.63),(13.9,0.05),(14.2,0.82),(14.4,-1.15),(14.6,-0.53),(14.8,0.29),(15.1,1.01),(15.3,-0.19),(15.5,0.53),(15.7,1.25),(16.0,0.05),(16.2,-0.91),(16.4,0.67),(16.6,-0.29),(16.9,1.25),(17.1,0.29),(17.3,-0.43),(17.55,0.77),(17.8,1.49),(18.0,0.05),(18.2,0.53),(18.45,-0.67),(18.7,1.49),(18.9,0.29),(19.1,1.01),(19.4,-0.82),(19.6,-0.29),(19.8,0.67),(20.0,1.49),(20.3,0.19),(20.5,-0.67),(20.7,1.01),(20.9,-0.91),(21.2,0.53),(21.3,4.81),(21.4,2.12),(21.6,-0.05),(21.8,1.49),(22.1,-0.77),(22.3,0.77),(22.5,0.19),(22.7,2.69),(22.97,-0.77),(23.1,1.39),(23.3,0.53),(23.5,0.05),(23.76,1.49),(23.99,1.01),(24.2,-0.67),(24.4,0.67),(24.7,1.49),(24.9,0.29),(25.1,-0.19),(25.3,1.15),(25.6,4.76),(25.7,2.5),(25.8,-0.43),(26.0,0.77),(26.2,1.49),(26.5,0.19),(26.7,1.01),(26.9,-0.53),(27.15,0.53),(27.4,1.63),(27.6,-0.91),(27.8,0.19),(28.05,1.15),(28.3,1.73),(28.5,-0.05),(28.7,0.67),(28.96,1.49),(29.2,-0.29),(29.4,0.43),(29.6,1.73),(29.86,1.01),(30.1,0.19),(30.3,-0.77),(30.5,1.39),(30.8,0.77),(31.0,1.63),(31.2,-0.05),(31.4,0.91),(31.7,2.21),(31.9,1.25),(32.1,-0.43),(32.3,0.53),(32.6,1.73),(32.8,0.19),(33.0,1.15),(33.2,-0.67),(33.5,0.77),(33.7,1.63),(33.9,0.19),(34.1,1.25),(34.4,-0.53),(34.6,0.91),(34.8,1.73),(35.05,0.29),(35.3,-0.05),(35.5,1.39),(35.7,0.67),(35.96,1.73),(36.2,1.01),(36.4,0.19),(36.6,1.97),(36.9,1.25),(37.1,0.53),(37.3,-0.43),(37.5,1.49),(37.8,-0.77),(37.99,0.91),(38.2,1.73),(38.4,0.29),(38.7,1.39),(38.9,-0.05),(39.1,2.12),(39.3,0.67),(39.6,1.63),(39.8,1.01),(40.0,-0.29),(40.25,1.73),(40.5,0.43),(40.7,2.21),(40.9,1.25),(41.15,-0.05),(41.4,1.63),(41.6,0.67),(41.8,1.97),(42.06,1.15),(42.3,0.29),(42.5,1.73),(42.7,1.01),(42.96,2.21),(43.2,0.53),(43.4,1.49),(43.6,0.19),(43.86,1.97),(44.1,1.25),(44.3,1.73),(44.5,0.77),(44.8,2.36),(44.99,1.01),(45.2,0.43),(45.4,1.63),(45.55,-0.58),(45.8,2.12),(46.0,1.25),(46.2,0.67),(46.5,1.73),(46.7,0.29),(46.9,3.32),(47.0,1.49),(47.25,1.01),(47.5,2.21),(47.7,0.53),(47.9,1.49),(48.2,-0.34),(48.4,1.97),(48.6,1.01),(48.8,1.73),(49.06,0.34),(49.3,2.45),(49.5,1.25),(49.7,0.91),(49.96,2.21),(50.0,-0.19)]
i_lim = [(-24.9,-0.29),(-24.7,3.17),(-24.35,2.21),(-22.65,2.21),(-22.4,-1.15),(-22.2,2.45),(-21.86,3.46),(-19.6,6.06),(-19.3,3.65),(-19.0,2.21),(-17.9,5.0),(-17.7,4.38),(-16.99,4.38),(-16.8,2.93),(-15.2,-0.34),(-15.1,5.58),(-14.7,6.06),(-14.5,2.93),(-14.2,2.93),(-12.0,4.76),(-11.1,3.08),(-10.1,1.49),(-9.2,5.1),(-7.97,6.3),(-7.3,2.21),(-6.3,2.21),(-5.6,6.2),(-1.8,5.96),(3.4,6.15),(8.3,6.39),(17.1,6.44),(19.9,2.21),(21.4,6.3),(26.5,5.96),(33.5,6.78),(35.05,2.45),(39.2,3.65),(46.5,-1.68),(49.6,-1.15)]
i_model_phase = [-19.7,-17.9,-16.8,-15.65,-13.4,-10.0,-5.5,0.2,5.8,11.45,17.1,22.7,28.4,34.0,39.7,45.3,50.1]
i_model_mag = [3.6,2.5,1.73,1.01,0.43,0.05,-0.24,-0.38,-0.31,-0.07,0.24,0.53,0.82,1.13,1.49,1.73,1.97]

band_names = ["UVW2", "U", "B", "V", "r", "i"]
band_colors = {"UVW2": "#ff1482", "U": "#800080", "B": "#0000ff", "V": "#00ff00", "r": "#ffa500", "i": "#ff0000"}
band_err = {"UVW2": 0.3, "U": 0.3, "B": 0.2, "V": 0.2, "r": 0.15, "i": 0.12}
band_ylim = {"UVW2": (9.05, -1.1), "U": (6.6, -0.87), "B": (5.0, -1.0), "V": (6.0, -1.5), "r": (8.9, -5.35), "i": (8.6, -4.7)}
band_yticks = {"UVW2": [0, 2, 4, 6, 8], "U": [0, 2, 4, 6], "B": [-1, 0, 1, 2, 3, 4, 5], "V": [0, 2, 4, 6],
               "r": [-5.0, -2.5, 0.0, 2.5, 5.0, 7.5], "i": [-2.5, 0.0, 2.5, 5.0, 7.5]}
band_ytick_labels = {"UVW2": ["0", "2", "4", "6", "8"], "U": ["0", "2", "4", "6"],
                     "B": ["-1", "0", "1", "2", "3", "4", "5"], "V": ["0", "2", "4", "6"],
                     "r": ["-5.0", "-2.5", "0.0", "2.5", "5.0", "7.5"], "i": ["-2.5", "0.0", "2.5", "5.0", "7.5"]}
x_ticks = [-20, -10, 0, 10, 20, 30, 40, 50]
x_tick_labels = ["-20", "-10", "0", "10", "20", "30", "40", "50"]

det = {"UVW2": UVW2_det, "U": U_det, "B": B_det, "V": V_det, "r": r_det, "i": i_det}
lim = {"UVW2": UVW2_lim, "U": U_lim, "B": B_lim, "V": V_lim, "r": r_lim, "i": i_lim}
model = {"UVW2": (UVW2_model_phase, UVW2_model_mag), "U": (U_model_phase, U_model_mag),
         "B": (B_model_phase, B_model_mag), "V": (V_model_phase, V_model_mag),
         "r": (r_model_phase, r_model_mag), "i": (i_model_phase, i_model_mag)}

header_words = [[("GOPREAUX", True)], [("I:", True)], [("S", True), ("AMPLE", False)], [("AND", False)],
                [("M", True), ("ODELING", False)], [("C", True), ("ODEBASE", False)]]
page_number = "13"

# ---------------- FIGURE ----------------
plt.rcParams['font.family'] = ['cmr10', 'DejaVu Serif']
plt.rcParams['axes.unicode_minus'] = False
plt.rcParams['mathtext.fontset'] = 'cm'

W, H = 1014, 743
fig = plt.figure(figsize=(W / 100, H / 100), dpi=100)

col_x = [58, 541]
row_y = [(57, 241), (264, 447), (470.5, 654)]
panel_w = 445

for k, name in enumerate(band_names):
    row, col = divmod(k, 2)
    top, bot = row_y[row]
    ax = fig.add_axes([col_x[col] / W, 1 - bot / H, panel_w / W, (bot - top) / H])
    c = band_colors[name]
    L = np.array(lim[name])
    ax.scatter(L[:, 0], L[:, 1], marker='v', s=50, color=c, alpha=0.22, edgecolors='none', zorder=1)
    D = np.array(det[name])
    ax.errorbar(D[:, 0], D[:, 1], yerr=band_err[name], fmt='o', ms=6.3, mfc=c, mec='k', mew=0.9,
                ecolor=c, elinewidth=1.4, capsize=0, ls='none', zorder=2)
    if name == "B":
        O = np.array(B_outlier)
        ax.errorbar(O[:, 0], O[:, 1], yerr=B_outlier_err, fmt='o', ms=6.3, mfc=c, mec='k', mew=0.9,
                    ecolor=c, elinewidth=1.4, capsize=0, ls='none', zorder=2)
    mp, mm = model[name]
    ax.plot(mp, mm, color='k', lw=3.8, dashes=(3.6, 1.6), dash_capstyle='butt', zorder=3)

    ax.set_xlim(-25, 50)
    ax.set_ylim(*band_ylim[name])
    ax.set_yticks(band_yticks[name])
    ax.set_yticklabels(band_ytick_labels[name])
    ax.set_xticks(x_ticks)
    if row == 2:
        ax.set_xticklabels(x_tick_labels)
    else:
        ax.set_xticklabels([])
    ax.tick_params(direction='out', length=4, width=1.0, labelsize=10, pad=3, colors='k')
    for sp in ax.spines.values():
        sp.set_color('#333333')
        sp.set_linewidth(1.2)
    ax.text(0.868, 0.92, name, transform=ax.transAxes, fontsize=13.8, ha='left', va='center', zorder=5)

fig.text(12 / W, 1 - 367 / H, "Magnitude Relative to Peak", rotation=90, fontsize=12,
         ha='center', va='center')
fig.text(496.5 / W, 1 - 707 / H, "Phase [days]", fontsize=12, ha='center', va='center')

# small-caps running header
renderer = fig.canvas.get_renderer()
big, small = 14.8, 11.8
base_y = 1 - 21 / H
pieces = []
for wi, word in enumerate(header_words):
    for txt, is_big in word:
        t = fig.text(0, base_y, txt, fontsize=big if is_big else small, ha='left', va='baseline')
        pieces.append((wi, t))
widths = [t.get_window_extent(renderer=renderer).width for _, t in pieces]
space = 0.36 * big * 100 / 72
total = sum(widths) + space * (len(header_words) - 1)
x = 493.5 - total / 2
prev_w = None
for (wi, t), w in zip(pieces, widths):
    if prev_w is not None and wi != prev_w:
        x += space
    t.set_x(x / W)
    x += w + 0.5
    prev_w = wi
fig.text(997 / W, base_y, page_number, fontsize=14.8, ha='center', va='baseline')

fig.savefig("out.png", dpi=100)
